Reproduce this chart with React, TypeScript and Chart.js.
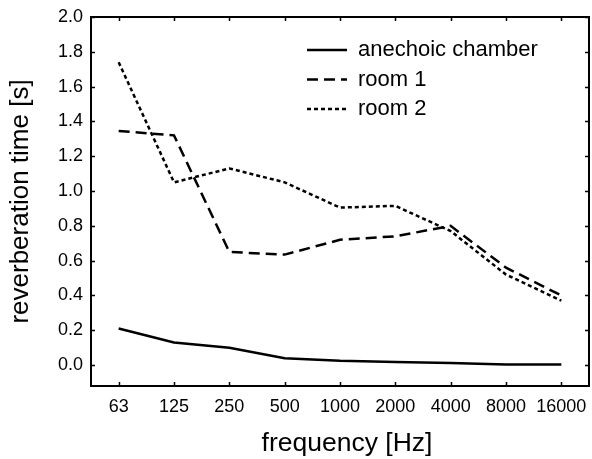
import { useEffect, useRef } from 'react';
import { Chart, registerables } from 'chart.js';

Chart.register(...registerables);

const freqLabels = ['63', '125', '250', '500', '1000', '2000', '4000', '8000', '16000'];
const yTickValues = [0, 0.2, 0.4, 0.6, 0.8, 1.0, 1.2, 1.4, 1.6, 1.8, 2.0];
const anechoic = [0.21, 0.13, 0.10, 0.04, 0.025, 0.018, 0.012, 0.004, 0.003];
const room1 = [1.345, 1.32, 0.65, 0.635, 0.72, 0.74, 0.80, 0.56, 0.40];
const room2 = [1.74, 1.05, 1.13, 1.05, 0.905, 0.915, 0.77, 0.52, 0.37];
const seriesLabels = ['anechoic chamber', 'room 1', 'room 2'];
const xTitle = 'frequency [Hz]';
const yTitle = 'reverberation time [s]';

const FONT = '"Liberation Sans", Arial, Helvetica, sans-serif';

const framePlugin = {
  id: 'frameAndLegend',
  afterDraw(chart: any) {
    const { ctx, chartArea } = chart;
    const { left, right, top, bottom } = chartArea;
    const xs = chart.scales.x;
    const ys = chart.scales.y;
    ctx.save();
    ctx.strokeStyle = '#000';
    ctx.lineWidth = 2;
    ctx.setLineDash([]);
    ctx.strokeRect(left, top, right - left, bottom - top);
    ctx.lineWidth = 1.5;
    const tl = 4;
    ctx.beginPath();
    xs.ticks.forEach((t: any) => {
      const px = Math.round(xs.getPixelForValue(t.value)) + 0.5;
      ctx.moveTo(px, bottom);
      ctx.lineTo(px, bottom - tl);
      ctx.moveTo(px, top);
      ctx.lineTo(px, top + tl);
    });
    ys.ticks.forEach((t: any) => {
      const py = Math.round(ys.getPixelForValue(t.value)) + 0.5;
      ctx.moveTo(left, py);
      ctx.lineTo(left + tl, py);
      ctx.moveTo(right, py);
      ctx.lineTo(right - tl, py);
    });
    ctx.stroke();

    // x axis title
    ctx.fillStyle = '#000';
    ctx.font = `26.5px ${FONT}`;
    ctx.textAlign = 'center';
    ctx.textBaseline = 'alphabetic';
    ctx.fillText(xTitle, (left + right) / 2 + 7, xs.bottom - 8);

    // legend
    const lx0 = left + 216;
    const lx1 = left + 256;
    const tx = left + 267;
    const y0 = top + 33;
    const dy = 29.5;
    chart.data.datasets.forEach((ds: any, i: number) => {
      const y = y0 + i * dy;
      ctx.beginPath();
      ctx.lineWidth = ds.borderWidth;
      ctx.strokeStyle = ds.borderColor;
      ctx.setLineDash(ds.borderDash || []);
      ctx.moveTo(lx0, y);
      ctx.lineTo(lx1, y);
      ctx.stroke();
      ctx.setLineDash([]);
      ctx.fillStyle = '#000';
      ctx.font = `22px ${FONT}`;
      ctx.textBaseline = 'middle';
      ctx.textAlign = 'left';
      ctx.fillText(ds.label, tx, y);
    });
    ctx.restore();
  },
};

export default function App() {
  const ref = useRef<HTMLCanvasElement | null>(null);
  useEffect(() => {
    document.body.style.margin = '0';
    const canvas = ref.current!;
    const mk = (vals: number[]) => vals.map((v, i) => ({ x: i, y: v }));
    const chart = new Chart(canvas, {
      type: 'line',
      data: {
        datasets: [
          {
            label: seriesLabels[0],
            data: mk(anechoic),
            borderColor: '#000',
            borderWidth: 2.5,
            pointRadius: 0,
            tension: 0,
            fill: false,
          },
          {
            label: seriesLabels[1],
            data: mk(room1),
            borderColor: '#000',
            borderWidth: 2.5,
            borderDash: [11, 6],
            pointRadius: 0,
            tension: 0,
            fill: false,
          },
          {
            label: seriesLabels[2],
            data: mk(room2),
            borderColor: '#000',
            borderWidth: 2.5,
            borderDash: [4, 3],
            pointRadius: 0,
            tension: 0,
            fill: false,
          },
        ],
      },
      options: {
        responsive: false,
        animation: false,
        devicePixelRatio: 1,
        layout: { padding: { left: 0, right: 3, top: 17, bottom: 0 } },
        plugins: { legend: { display: false }, tooltip: { enabled: false } },
        scales: {
          x: {
            type: 'linear',
            min: -0.5,
            max: 8.5,
            afterBuildTicks: (s: any) => {
              s.ticks = freqLabels.map((_, i) => ({ value: i }));
            },
            afterFit: (s: any) => {
              s.height = 73;
            },
            grid: { display: false },
            border: { display: false },
            ticks: {
              autoSkip: false,
              maxRotation: 0,
              padding: 2,
              color: '#000',
              font: { family: FONT, size: 18 },
              callback: (v: any) => freqLabels[v] ?? '',
            },
            title: { display: false },
          },
          y: {
            type: 'linear',
            min: -0.12,
            max: 2.0,
            afterBuildTicks: (s: any) => {
              s.ticks = yTickValues.map((v) => ({ value: v }));
            },
            afterFit: (s: any) => {
              s.width = 91;
            },
            grid: { display: false },
            border: { display: false },
            ticks: {
              padding: 0,
              color: '#000',
              font: { family: FONT, size: 18 },
              callback: (v: any) => Number(v).toFixed(1),
            },
            title: {
              display: true,
              text: yTitle,
              color: '#000',
              font: { family: FONT, size: 26 },
              padding: { top: 5, bottom: 0 },
            },
          },
        },
      },
      plugins: [framePlugin],
    } as any);
    return () => chart.destroy();
  }, []);
  return <canvas ref={ref} width={592} height={459} style={{ display: 'block' }} />;
}
